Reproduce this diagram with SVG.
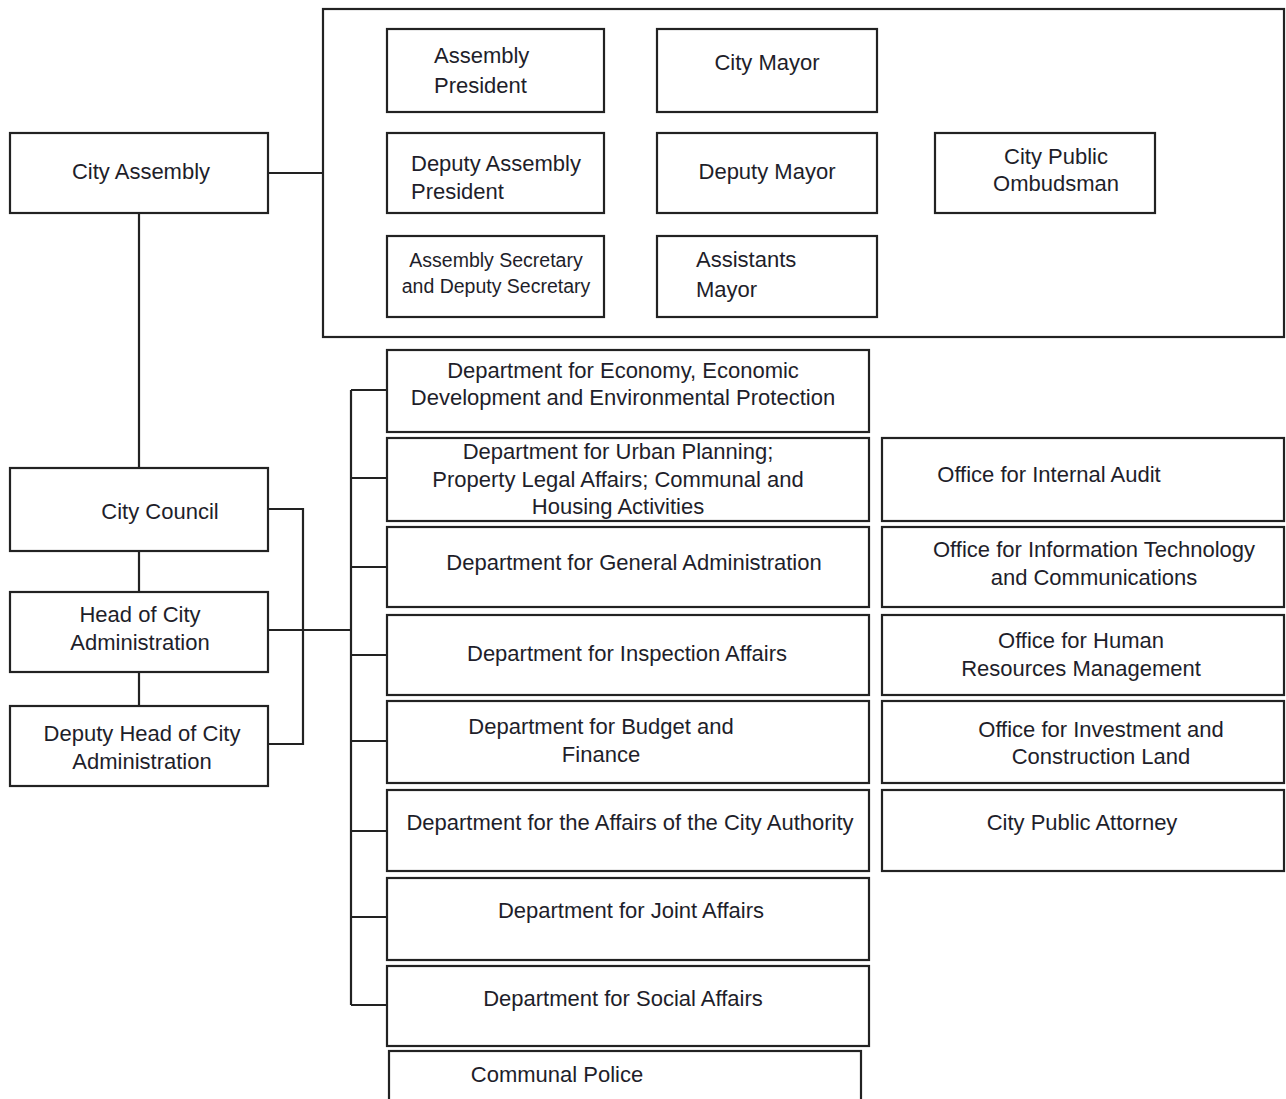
<svg xmlns="http://www.w3.org/2000/svg" width="1286" height="1099" viewBox="0 0 1286 1099">
<style>
.b{fill:#fff;stroke:#222;stroke-width:2.2}
.c{fill:none;stroke:#222;stroke-width:2.2}
text{font-family:"Liberation Sans",Arial,sans-serif;font-size:22px;fill:#1e1e2a}
.m{text-anchor:middle}
.s{font-size:19.5px}
</style>
<rect width="1286" height="1099" fill="#fff"/>
<g id="connectors">
<path class="c" d="M268,173H323"/>
<path class="c" d="M139,213V468M139,551V592M139,672V706"/>
<path class="c" d="M268,509H303V744H268"/>
<path class="c" d="M268,630H351"/>
<path class="c" d="M351,390V1005"/>
<path class="c" d="M351,390H387M351,478H387M351,567H387M351,655H387M351,741H387M351,831H387M351,917H387M351,1005H387"/>
</g>
<g id="executive-group"><rect class="b" x="323" y="9" width="961" height="328"/></g>
<g id="city-assembly"><rect class="b" x="10" y="133" width="258" height="80"/><text class="m" x="141" y="179">City Assembly</text></g>
<g id="assembly-president"><rect class="b" x="387" y="29" width="217" height="83"/><text x="434" y="63">Assembly</text><text x="434" y="93">President</text></g>
<g id="city-mayor"><rect class="b" x="657" y="29" width="220" height="83"/><text class="m" x="767" y="70">City Mayor</text></g>
<g id="deputy-assembly-president"><rect class="b" x="387" y="133" width="217" height="80"/><text x="411" y="171">Deputy Assembly</text><text x="411" y="199">President</text></g>
<g id="deputy-mayor"><rect class="b" x="657" y="133" width="220" height="80"/><text class="m" x="767" y="179">Deputy Mayor</text></g>
<g id="city-public-ombudsman"><rect class="b" x="935" y="133" width="220" height="80"/><text class="m" x="1056" y="164">City Public</text><text class="m" x="1056" y="191">Ombudsman</text></g>
<g id="assembly-secretary"><rect class="b" x="387" y="236" width="217" height="81"/><text class="m s" x="496" y="267">Assembly Secretary</text><text class="m s" x="496" y="293">and Deputy Secretary</text></g>
<g id="assistants-mayor"><rect class="b" x="657" y="236" width="220" height="81"/><text x="696" y="267">Assistants</text><text x="696" y="297">Mayor</text></g>
<g id="city-council"><rect class="b" x="10" y="468" width="258" height="83"/><text class="m" x="160" y="519">City Council</text></g>
<g id="head-city-admin"><rect class="b" x="10" y="592" width="258" height="80"/><text class="m" x="140" y="622">Head of City</text><text class="m" x="140" y="650">Administration</text></g>
<g id="deputy-head-city-admin"><rect class="b" x="10" y="706" width="258" height="80"/><text class="m" x="142" y="741">Deputy Head of City</text><text class="m" x="142" y="769">Administration</text></g>
<g id="dept-economy"><rect class="b" x="387" y="350" width="482" height="82"/><text class="m" x="623" y="378">Department for Economy, Economic</text><text class="m" x="623" y="405">Development and Environmental Protection</text></g>
<g id="dept-urban"><rect class="b" x="387" y="438" width="482" height="83"/><text class="m" x="618" y="459">Department for Urban Planning;</text><text class="m" x="618" y="487">Property Legal Affairs; Communal and</text><text class="m" x="618" y="514">Housing Activities</text></g>
<g id="dept-general"><rect class="b" x="387" y="527" width="482" height="80"/><text class="m" x="634" y="570">Department for General Administration</text></g>
<g id="dept-inspection"><rect class="b" x="387" y="615" width="482" height="80"/><text class="m" x="627" y="661">Department for Inspection Affairs</text></g>
<g id="dept-budget"><rect class="b" x="387" y="701" width="482" height="82"/><text class="m" x="601" y="734">Department for Budget and</text><text class="m" x="601" y="762">Finance</text></g>
<g id="dept-city-authority"><rect class="b" x="387" y="790" width="482" height="81"/><text class="m" x="630" y="830">Department for the Affairs of the City Authority</text></g>
<g id="dept-joint"><rect class="b" x="387" y="878" width="482" height="82"/><text class="m" x="631" y="918">Department for Joint Affairs</text></g>
<g id="dept-social"><rect class="b" x="387" y="966" width="482" height="80"/><text class="m" x="623" y="1006">Department for Social Affairs</text></g>
<g id="communal-police"><rect class="b" x="389" y="1051" width="472" height="60"/><text class="m" x="557" y="1082">Communal Police</text></g>
<g id="office-audit"><rect class="b" x="882" y="438" width="402" height="83"/><text class="m" x="1049" y="482">Office for Internal Audit</text></g>
<g id="office-it"><rect class="b" x="882" y="527" width="402" height="80"/><text class="m" x="1094" y="557">Office for Information Technology</text><text class="m" x="1094" y="585">and Communications</text></g>
<g id="office-hr"><rect class="b" x="882" y="615" width="402" height="80"/><text class="m" x="1081" y="648">Office for Human</text><text class="m" x="1081" y="676">Resources Management</text></g>
<g id="office-investment"><rect class="b" x="882" y="701" width="402" height="82"/><text class="m" x="1101" y="737">Office for Investment and</text><text class="m" x="1101" y="764">Construction Land</text></g>
<g id="city-public-attorney"><rect class="b" x="882" y="790" width="402" height="81"/><text class="m" x="1082" y="830">City Public Attorney</text></g>
</svg>
